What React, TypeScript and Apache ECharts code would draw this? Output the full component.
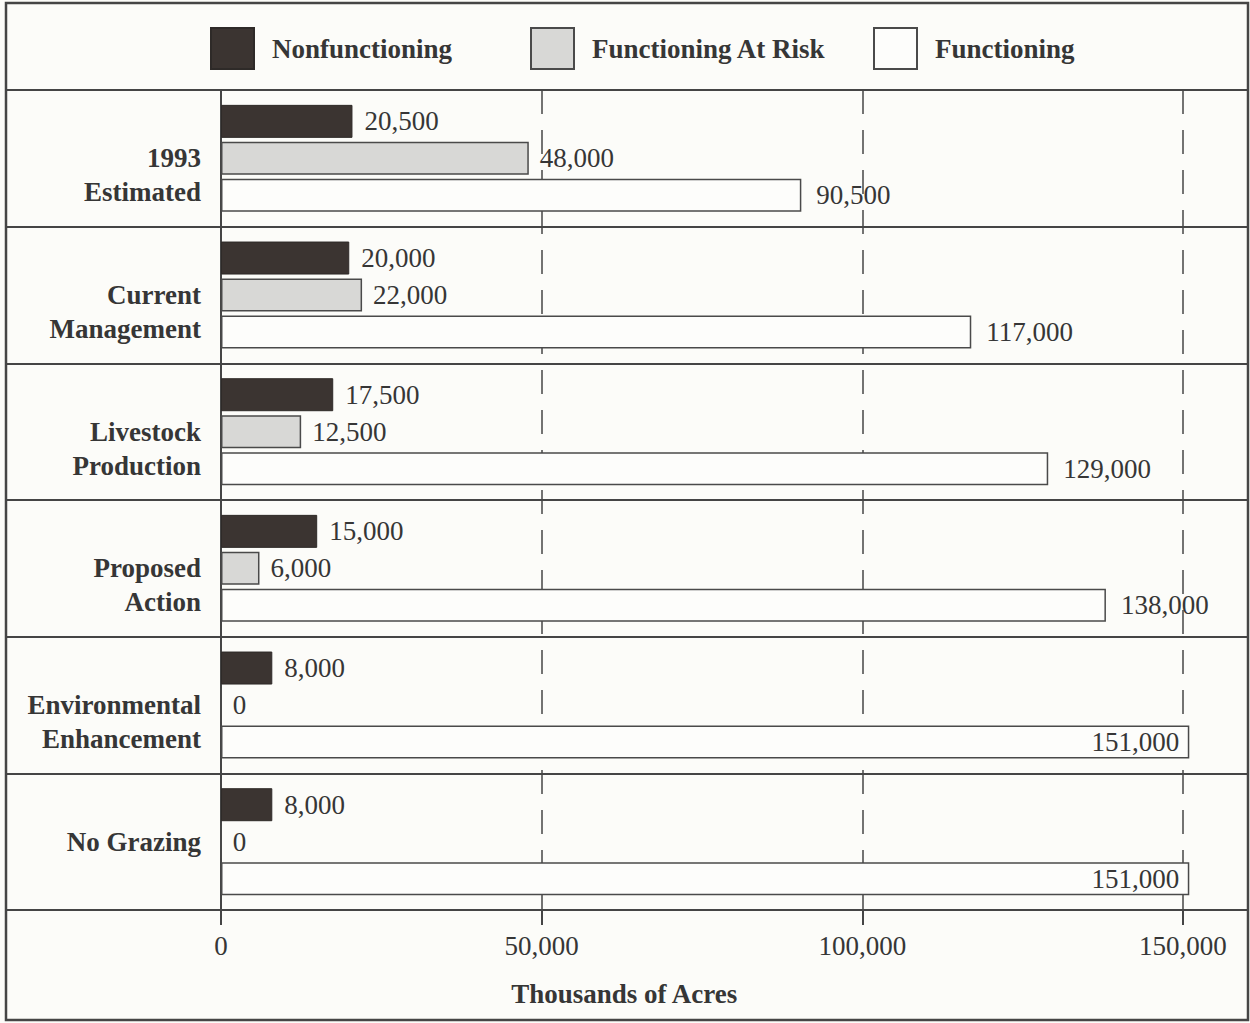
import React, { useEffect, useRef } from 'react';
import * as echarts from 'echarts';

const categories = ['1993\nEstimated', 'Current\nManagement', 'Livestock\nProduction', 'Proposed\nAction', 'Environmental\nEnhancement', 'No Grazing'];
const nonfunctioning = [20500, 20000, 17500, 15000, 8000, 8000];
const atRisk = [48000, 22000, 12500, 6000, 0, 0];
const functioning = [90500, 117000, 129000, 138000, 151000, 151000];
const xTicks = [0, 50000, 100000, 150000];
const seriesNames = ['Nonfunctioning', 'Functioning At Risk', 'Functioning'];
const axisTitle = 'Thousands of Acres';

const FONT = '"Liberation Serif", "DejaVu Serif", "Times New Roman", serif';
const INK = '#363636';
const LINE = '#454545';
const fmt = (v: number) => v.toLocaleString('en-US');

export default function App() {
  const ref = useRef<HTMLDivElement>(null);
  useEffect(() => {
    if (!ref.current) return;
    const chart = echarts.init(ref.current, undefined, { renderer: 'svg' });
    const labelBase = {
      show: true,
      position: 'right' as const,
      fontFamily: FONT,
      fontSize: 27,
      color: INK,
      formatter: (p: any) => fmt(p.value),
    };
    const legendBase = {
      itemWidth: 43,
      itemHeight: 41,
      icon: 'rect',
      padding: 0,
      textStyle: { fontFamily: FONT, fontSize: 27, fontWeight: 'bold' as const, color: INK, padding: [0, 0, 0, 13] },
      top: 27,
    };
    const option: any = {
      animation: false,
      backgroundColor: '#fcfcf9',
      textStyle: { fontFamily: FONT },
      legend: [
        { ...legendBase, left: 210, data: [seriesNames[0]] },
        { ...legendBase, left: 530, data: [seriesNames[1]] },
        { ...legendBase, left: 873, data: [seriesNames[2]] },
      ],
      grid: { left: 221, right: 3, top: 90, bottom: 113, containLabel: false },
      xAxis: {
        type: 'value',
        min: 0,
        max: 160000,
        interval: 50000,
        axisLine: { show: true, lineStyle: { color: LINE, width: 2 } },
        axisTick: { show: true, length: 15, customValues: xTicks, lineStyle: { color: LINE, width: 2 } },
        axisLabel: {
          customValues: xTicks,
          formatter: (v: number) => (v % 50000 === 0 ? fmt(v) : ''),
          fontFamily: FONT,
          fontSize: 27,
          color: INK,
          margin: 22,
        },
        splitLine: { show: true, lineStyle: { color: LINE, width: 1.5, type: [24, 16] } },
      },
      yAxis: {
        type: 'category',
        inverse: true,
        data: categories,
        axisLine: { show: true, lineStyle: { color: LINE, width: 2 } },
        axisTick: { show: true, length: 215, lineStyle: { color: LINE, width: 2 } },
        axisLabel: {
          fontFamily: FONT,
          fontSize: 27,
          fontWeight: 'bold',
          color: INK,
          lineHeight: 34,
          align: 'right',
          margin: 20,
          formatter: (v: string) => (v.includes('\n') ? '\n' + v : v),
        },
        splitLine: { show: true, lineStyle: { color: LINE, width: 2 } },
      },
      series: [
        {
          name: seriesNames[0],
          type: 'bar',
          data: nonfunctioning,
          barWidth: 33,
          barGap: '12%',
          itemStyle: { color: '#3b3431', borderColor: '#2e2a28', borderWidth: 1 },
          label: { ...labelBase, distance: 12 },
        },
        {
          name: seriesNames[1],
          type: 'bar',
          data: atRisk,
          barWidth: 33,
          barGap: '12%',
          itemStyle: { color: '#d8d8d6', borderColor: '#4a4a4a', borderWidth: 1.5 },
          label: { ...labelBase, distance: 11 },
        },
        {
          name: seriesNames[2],
          type: 'bar',
          data: functioning.map((v) =>
            v > 145000 ? { value: v, label: { position: 'insideRight', distance: 10 } } : v
          ),
          barWidth: 33,
          barGap: '12%',
          itemStyle: { color: '#fdfdfb', borderColor: '#4a4a4a', borderWidth: 1.5 },
          label: { ...labelBase, distance: 15 },
        },
      ],
      graphic: [
        {
          type: 'rect',
          shape: { x: 6, y: 3, width: 1242, height: 1017 },
          style: { fill: 'none', stroke: LINE, lineWidth: 2.5 },
          z: 100,
        },
        {
          type: 'text',
          left: 'center',
          top: 980,
          style: {
            text: axisTitle,
            fontFamily: FONT,
            fontSize: 27,
            fontWeight: 'bold',
            fill: INK,
          },
        },
      ],
    };
    chart.setOption(option);
    return () => chart.dispose();
  }, []);
  return (
    <div
      ref={ref}
      style={{ position: 'absolute', left: 0, top: 0, width: 1250, height: 1023 }}
    />
  );
}
